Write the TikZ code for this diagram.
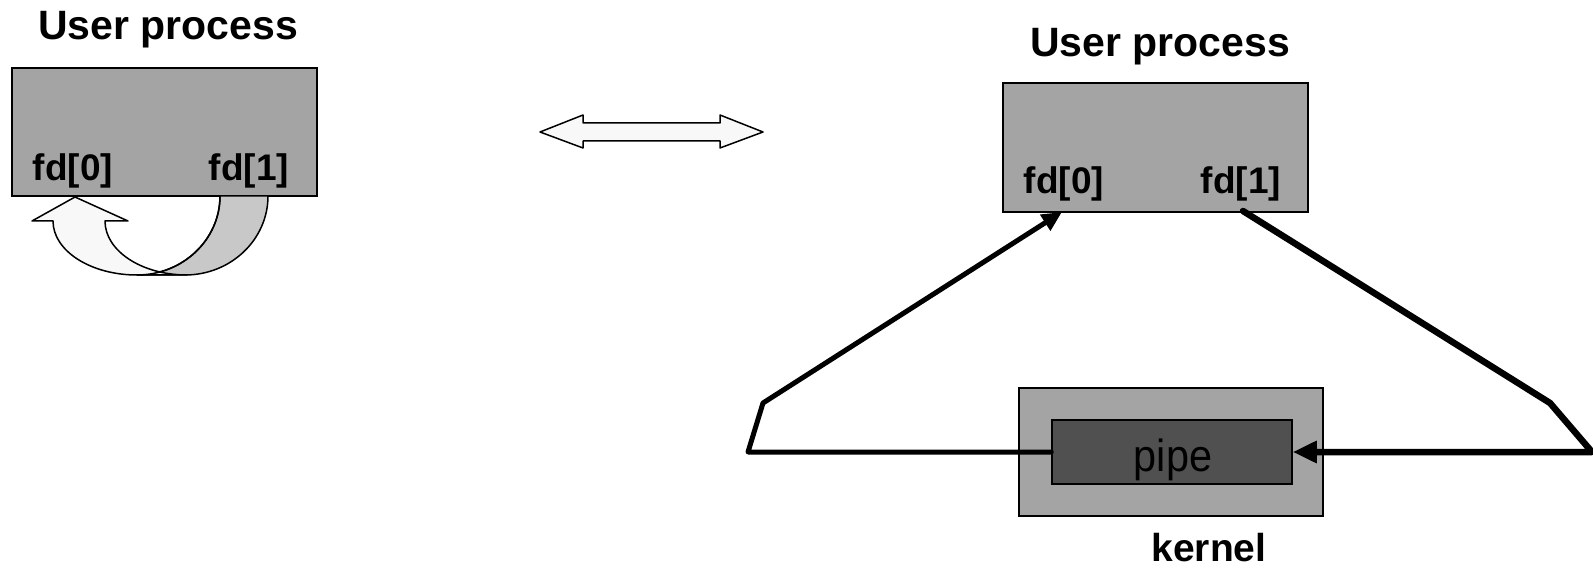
\documentclass[tikz,border=0pt]{standalone}
\usepackage{fontspec}
\setmainfont{Liberation Sans}
\usetikzlibrary{arrows.meta}

\definecolor{boxgray}{HTML}{A4A4A4}
\definecolor{pipegray}{HTML}{505050}
\definecolor{bandgray}{HTML}{C8C8C8}
\definecolor{paleshape}{HTML}{F8F8F8}

\begin{document}
\begin{tikzpicture}[x=1pt,y=-1pt,
  procbox/.style={draw=black, line width=2pt, fill=boxgray,
    minimum width=305pt, minimum height=128pt, inner sep=0pt},
  titlelabel/.style={font=\bfseries\fontsize{41}{41}\selectfont, anchor=base},
  fdlabel/.style={font=\bfseries\fontsize{37}{37}\selectfont, anchor=base},
  outlined/.style={draw=black, line width=1.5pt, line join=round},
  thinwire/.style={line width=5pt, line join=round, line cap=round},
  thickwire/.style={line width=6.5pt, line join=round, line cap=round}]

\useasboundingbox (0,0) rectangle (1593,569);

% left process: the pipe looping back into the same process
\node[procbox] (lbox) at (164.5,132) {};
\node[titlelabel] (ltitle) at (168,40) {User process};
\node[fdlabel] (lfd0) at (73,181) {fd[0]};
\node[fdlabel] (lfd1) at (249,181) {fd[1]};

% curved block arrow: shaded back band, then the pale arrow on top
\draw[outlined, fill=bandgray]
  (268,196) arc[start angle=0, end angle=90, x radius=83, y radius=79]
  -- (137,275) arc[start angle=90, end angle=0, x radius=83, y radius=79] -- cycle;
\draw[outlined, fill=paleshape]
  (53,221) arc[start angle=180, end angle=90, x radius=84, y radius=54]
  -- (187,275) arc[start angle=90, end angle=180, x radius=82, y radius=54]
  -- (128,221) -- (75,197) -- (32,221) -- cycle;
\draw[outlined] (220,196) arc[start angle=0, end angle=90, x radius=83, y radius=79];

% double block arrow between the two views
\draw[outlined, fill=paleshape]
  (540,132) -- (583,115) -- (583,123) -- (720,123) -- (720,115) -- (763,132)
  -- (720,148) -- (720,141) -- (583,141) -- (583,148) -- cycle;

% right process with the kernel pipe
\node[procbox, minimum height=129pt] (rbox) at (1155.5,147.5) {};
\node[titlelabel] (rtitle) at (1160,57) {User process};
\node[fdlabel] (rfd0) at (1064,194) {fd[0]};
\node[fdlabel] (rfd1) at (1241,194) {fd[1]};

\node[procbox, minimum width=304pt] (kernelbox) at (1171,452) {};
\node[draw=black, line width=1.5pt, fill=pipegray, minimum width=240pt,
  minimum height=64pt, inner sep=0pt] (pipe) at (1172,452) {};
\node[font=\fontsize{45}{45}\selectfont, anchor=base, xscale=0.92] (pipetext) at (1173,471) {pipe};
\node[font=\bfseries\fontsize{39}{39}\selectfont, anchor=base, inner sep=1pt] (kernellabel) at (1209,561) {kernel};

% wires between the descriptors and the pipe
\coordinate (fd0in) at (1062,212);
\coordinate (fd1out) at (1243,211);
\coordinate (lbend) at (748,452);
\coordinate (lknee) at (763,403);
\coordinate (rknee) at (1550,403);
\coordinate (rbend) at (1592,452);

\draw[thinwire, -{Triangle[length=20pt,width=18pt]}]
  (pipe.west) -- (lbend) -- (lknee) -- (fd0in);
\draw[thickwire, -{Triangle[length=24pt,width=21pt]}]
  (fd1out) -- (rknee) -- (rbend) -- (pipe.east);
\end{tikzpicture}
\end{document}
